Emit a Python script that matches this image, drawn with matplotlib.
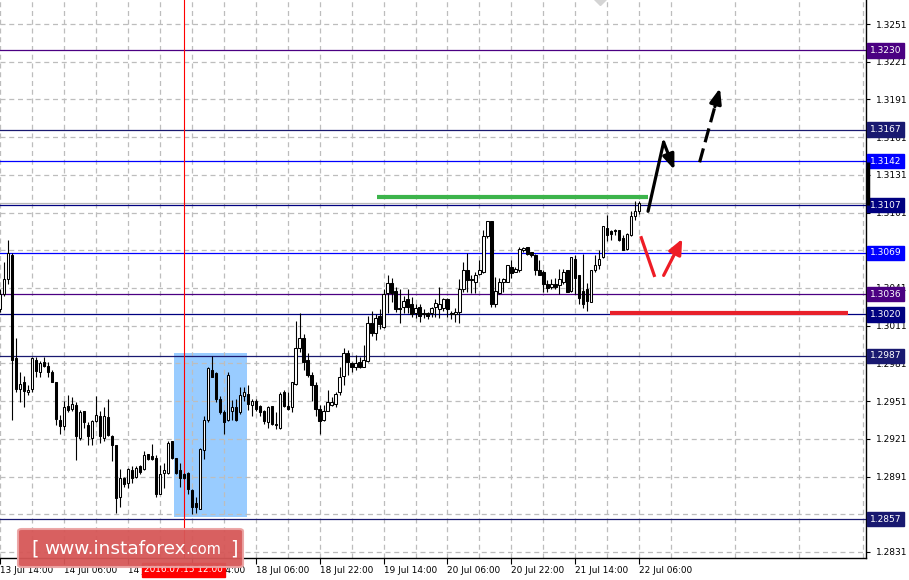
import matplotlib
matplotlib.use("Agg")
import matplotlib.pyplot as plt
import matplotlib.transforms as mtransforms
from matplotlib.patches import Rectangle, FancyBboxPatch
import numpy as np

# H1 candles from 13 Jul 14:00 to 22 Jul 06:00 (weekend hours not shown)
opens = [1.3024, 1.3036, 1.3048, 1.3067, 1.2985, 1.2961, 1.2966, 1.2958, 1.2961, 1.2984,
         1.2974, 1.2982, 1.2979, 1.2974, 1.2966, 1.2936, 1.2931, 1.2947, 1.2945, 1.2948,
         1.2922, 1.2943, 1.2932, 1.2922, 1.2935, 1.2939, 1.2922, 1.2938, 1.2923, 1.2916,
         1.2875, 1.2890, 1.2886, 1.2896, 1.2891, 1.2899, 1.2897, 1.2909, 1.2907, 1.2906,
         1.2877, 1.2894, 1.2894, 1.2919, 1.2906, 1.2896, 1.2893, 1.2894, 1.2880, 1.2870,
         1.2865, 1.2912, 1.2936, 1.2976, 1.2973, 1.2953, 1.2942, 1.2936, 1.2943, 1.2946,
         1.2942, 1.2955, 1.2957, 1.2948, 1.2951, 1.2947, 1.2943, 1.2934, 1.2947, 1.2933,
         1.2930, 1.2958, 1.2947, 1.2946, 1.2965, 1.2993, 1.3001, 1.2984, 1.2972, 1.2964,
         1.2945, 1.2936, 1.2943, 1.2948, 1.2949, 1.2958, 1.2971, 1.2989, 1.2981, 1.2978,
         1.2982, 1.2978, 1.2983, 1.3013, 1.3005, 1.3019, 1.3010, 1.3037, 1.3045, 1.3039,
         1.3025, 1.3026, 1.3032, 1.3028, 1.3021, 1.3026, 1.3021, 1.3021, 1.3021, 1.3026,
         1.3024, 1.3025, 1.3032, 1.3021, 1.3020, 1.3022, 1.3040, 1.3055, 1.3048, 1.3046,
         1.3052, 1.3054, 1.3082, 1.3094, 1.3028, 1.3037, 1.3046, 1.3046, 1.3058, 1.3054,
         1.3055, 1.3071, 1.3074, 1.3070, 1.3067, 1.3055, 1.3054, 1.3044, 1.3042, 1.3044,
         1.3043, 1.3046, 1.3055, 1.3039, 1.3064, 1.3051, 1.3039, 1.3040, 1.3030, 1.3055,
         1.3059, 1.3066, 1.3089, 1.3086, 1.3087, 1.3087, 1.3081, 1.3072, 1.3083, 1.3098,
         1.3102]
highs = [1.3040, 1.3062, 1.3079, 1.3069, 1.3001, 1.2974, 1.2971, 1.2964, 1.2986, 1.2986,
         1.2983, 1.2986, 1.2982, 1.2976, 1.2966, 1.2940, 1.2951, 1.2956, 1.2954, 1.2950,
         1.2944, 1.2943, 1.2934, 1.2936, 1.2955, 1.2943, 1.2946, 1.2953, 1.2924, 1.2916,
         1.2897, 1.2891, 1.2898, 1.2899, 1.2899, 1.2900, 1.2911, 1.2909, 1.2917, 1.2908,
         1.2900, 1.2902, 1.2919, 1.2919, 1.2906, 1.2902, 1.2894, 1.2895, 1.2881, 1.2875,
         1.2914, 1.2939, 1.2978, 1.2987, 1.2974, 1.2955, 1.2944, 1.2974, 1.2952, 1.2953,
         1.2962, 1.2962, 1.2964, 1.2953, 1.2953, 1.2948, 1.2944, 1.2947, 1.2947, 1.2942,
         1.2958, 1.2960, 1.2958, 1.2966, 1.3015, 1.3021, 1.3004, 1.2989, 1.2974, 1.2966,
         1.2948, 1.2948, 1.2960, 1.2954, 1.2958, 1.2978, 1.2993, 1.2992, 1.2982, 1.2988,
         1.2986, 1.2996, 1.3019, 1.3023, 1.3020, 1.3024, 1.3040, 1.3051, 1.3049, 1.3042,
         1.3040, 1.3035, 1.3040, 1.3034, 1.3028, 1.3028, 1.3024, 1.3022, 1.3026, 1.3032,
         1.3042, 1.3033, 1.3033, 1.3023, 1.3025, 1.3048, 1.3062, 1.3069, 1.3051, 1.3054,
         1.3063, 1.3087, 1.3094, 1.3094, 1.3050, 1.3049, 1.3049, 1.3059, 1.3063, 1.3058,
         1.3074, 1.3074, 1.3074, 1.3070, 1.3068, 1.3063, 1.3055, 1.3047, 1.3048, 1.3049,
         1.3056, 1.3056, 1.3055, 1.3066, 1.3067, 1.3051, 1.3068, 1.3045, 1.3055, 1.3067,
         1.3071, 1.3090, 1.3099, 1.3087, 1.3088, 1.3087, 1.3083, 1.3085, 1.3102, 1.3110,
         1.3110]
lows = [1.3022, 1.3035, 1.3044, 1.2936, 1.2958, 1.2950, 1.2946, 1.2956, 1.2958, 1.2970,
        1.2970, 1.2978, 1.2970, 1.2966, 1.2932, 1.2925, 1.2928, 1.2942, 1.2943, 1.2904,
        1.2920, 1.2930, 1.2916, 1.2916, 1.2934, 1.2918, 1.2919, 1.2923, 1.2903, 1.2862,
        1.2867, 1.2883, 1.2882, 1.2886, 1.2890, 1.2893, 1.2896, 1.2904, 1.2904, 1.2875,
        1.2877, 1.2882, 1.2893, 1.2905, 1.2893, 1.2883, 1.2889, 1.2877, 1.2861, 1.2862,
        1.2865, 1.2905, 1.2934, 1.2970, 1.2950, 1.2941, 1.2925, 1.2935, 1.2936, 1.2935,
        1.2941, 1.2951, 1.2944, 1.2939, 1.2943, 1.2939, 1.2933, 1.2930, 1.2932, 1.2929,
        1.2929, 1.2946, 1.2944, 1.2942, 1.2964, 1.2990, 1.2976, 1.2970, 1.2951, 1.2939,
        1.2925, 1.2935, 1.2943, 1.2947, 1.2946, 1.2956, 1.2964, 1.2972, 1.2974, 1.2976,
        1.2977, 1.2978, 1.2982, 1.3003, 1.3000, 1.3008, 1.3009, 1.3021, 1.3030, 1.3022,
        1.3013, 1.3021, 1.3021, 1.3018, 1.3017, 1.3014, 1.3017, 1.3016, 1.3018, 1.3018,
        1.3017, 1.3023, 1.3018, 1.3016, 1.3014, 1.3013, 1.3038, 1.3038, 1.3037, 1.3037,
        1.3051, 1.3053, 1.3081, 1.3026, 1.3026, 1.3036, 1.3038, 1.3046, 1.3049, 1.3054,
        1.3054, 1.3070, 1.3067, 1.3066, 1.3051, 1.3051, 1.3038, 1.3038, 1.3040, 1.3040,
        1.3036, 1.3044, 1.3038, 1.3038, 1.3036, 1.3028, 1.3025, 1.3023, 1.3030, 1.3054,
        1.3056, 1.3065, 1.3078, 1.3079, 1.3083, 1.3078, 1.3071, 1.3071, 1.3082, 1.3095,
        1.3100]
closes = [1.3036, 1.3048, 1.3069, 1.2984, 1.2961, 1.2965, 1.2959, 1.2960, 1.2985, 1.2975,
          1.2981, 1.2979, 1.2974, 1.2966, 1.2937, 1.2931, 1.2946, 1.2944, 1.2949, 1.2923,
          1.2942, 1.2934, 1.2923, 1.2935, 1.2940, 1.2923, 1.2939, 1.2924, 1.2916, 1.2874,
          1.2890, 1.2885, 1.2897, 1.2890, 1.2898, 1.2895, 1.2908, 1.2905, 1.2905, 1.2877,
          1.2893, 1.2896, 1.2918, 1.2906, 1.2894, 1.2890, 1.2890, 1.2881, 1.2867, 1.2867,
          1.2913, 1.2936, 1.2977, 1.2970, 1.2953, 1.2942, 1.2934, 1.2972, 1.2946, 1.2936,
          1.2956, 1.2958, 1.2949, 1.2951, 1.2945, 1.2942, 1.2935, 1.2946, 1.2933, 1.2932,
          1.2957, 1.2947, 1.2945, 1.2966, 1.2993, 1.3001, 1.2982, 1.2972, 1.2964, 1.2945,
          1.2935, 1.2943, 1.2950, 1.2950, 1.2957, 1.2970, 1.2989, 1.2982, 1.2978, 1.2981,
          1.2978, 1.2984, 1.3013, 1.3005, 1.3017, 1.3012, 1.3036, 1.3045, 1.3037, 1.3024,
          1.3024, 1.3031, 1.3026, 1.3020, 1.3025, 1.3019, 1.3020, 1.3019, 1.3025, 1.3029,
          1.3028, 1.3032, 1.3024, 1.3020, 1.3022, 1.3040, 1.3055, 1.3047, 1.3047, 1.3051,
          1.3055, 1.3082, 1.3094, 1.3028, 1.3039, 1.3046, 1.3048, 1.3059, 1.3053, 1.3056,
          1.3072, 1.3073, 1.3068, 1.3067, 1.3055, 1.3051, 1.3044, 1.3041, 1.3044, 1.3042,
          1.3048, 1.3054, 1.3038, 1.3066, 1.3049, 1.3033, 1.3028, 1.3031, 1.3055, 1.3059,
          1.3064, 1.3090, 1.3083, 1.3084, 1.3086, 1.3079, 1.3071, 1.3084, 1.3098, 1.3102,
          1.3109]

time_ticks = [0, 16, 32, 48, 64, 80, 96, 112, 128, 144, 160]
time_labels = ['13 Jul 14:00', '14 Jul 06:00', '14 Jul 22:00', '15 Jul 14:00',
               '18 Jul 06:00', '18 Jul 22:00', '19 Jul 14:00', '20 Jul 06:00',
               '20 Jul 22:00', '21 Jul 14:00', '22 Jul 06:00']
price_ticks = [1.2831, 1.2861, 1.2891, 1.2921, 1.2951, 1.2981, 1.3011, 1.3041,
               1.3071, 1.3101, 1.3131, 1.3161, 1.3191, 1.3221, 1.3251]
hidden_ticks = [1.2861, 1.3071]   # covered by level boxes on the scale

levels = [1.3230, 1.3167, 1.3142, 1.3107, 1.3069, 1.3036, 1.3020, 1.2987, 1.2857]
level_colors = ['#4b0082', '#191970', '#0000ff', '#000080', '#0000ff',
                '#4b0082', '#000080', '#191970', '#191970']

cursor_time = 46
cursor_label = '2016.07.15 12:00'
zone_time = (43.5, 61.75)
zone_price = (1.2859, 1.2989)
green_price, green_span = 1.3113, (94.25, 162.25)
red_price, red_span = 1.3021, (152.75, 212.25)

# forecast sketch (time index, price)
up_path = [(162.2, 1.3102), (166.1, 1.3157), (168.8, 1.3135)]
up_dash = [(175.1, 1.3141), (180.2, 1.3200)]
dip_line = [(160.5, 1.3081), (163.75, 1.3051)]
dip_arrow = [(166.1, 1.3051), (170.75, 1.3080)]

plt.rcParams['font.family'] = ['DejaVu Sans']

fig = plt.figure(figsize=(9.09, 5.80), dpi=100)
ax = fig.add_axes([0, 22 / 580, 866 / 909, 558 / 580])
ax.set_xlim(0.25, 216.75)
ax.set_ylim(1.28262, 1.32701)
ax.set_axisbelow(True)

# grid + axes look like MT4
ax.set_xticks(time_ticks)
ax.set_xticklabels(time_labels, ha='left', fontsize=6.4)
ax.set_xticks(np.arange(8, 217, 16), minor=True)
ax.set_yticks(price_ticks)
ax.set_yticklabels(['' if p in hidden_ticks else '%.4f' % p for p in price_ticks],
                   fontsize=6.5)
ax.yaxis.tick_right()
ax.tick_params(axis='x', which='major', length=4, pad=1.5, direction='out')
ax.tick_params(axis='x', which='minor', length=0)
ax.tick_params(axis='y', length=3, pad=4, direction='out')
ax.grid(True, which='both', axis='x', color='#bdbdbd', ls=(0, (4, 3)), lw=0.9)
ax.grid(True, which='major', axis='y', color='#bdbdbd', ls=(0, (4, 3)), lw=0.9)
for s in ['top', 'left']:
    ax.spines[s].set_visible(False)
for s in ['right', 'bottom']:
    ax.spines[s].set_linewidth(1.0)

# highlighted zone
ax.add_patch(Rectangle((zone_time[0], zone_price[0]), zone_time[1] - zone_time[0],
                       zone_price[1] - zone_price[0], fc='#99ccff', ec='none', zorder=0.2))

# levels
for lv, col in zip(levels, level_colors):
    ax.axhline(lv, color=col, lw=0.9, zorder=1.5)
ax.axhline(closes[-1], color='#b8b8b8', lw=0.9, zorder=1.4)

blend = mtransforms.blended_transform_factory(ax.transAxes, ax.transData)
for lv, col in zip(levels, level_colors):
    ax.text(1.0045, lv, '%.4f' % lv, transform=blend, ha='left', va='center',
            fontsize=6.5, color='white', clip_on=False, zorder=5,
            bbox=dict(boxstyle='square,pad=0.3', fc=col, ec=col))
ax.plot([1.002, 1.002], [1.3141, 1.3107], transform=blend, color='black',
        lw=2.5, clip_on=False, solid_capstyle='butt', zorder=5)

# cursor line
ax.axvline(cursor_time, color='#ff0000', lw=0.8, zorder=1.6)
bx = mtransforms.blended_transform_factory(ax.transData, ax.transAxes)
ax.text(cursor_time, -0.0215, cursor_label, transform=bx, ha='center', va='center',
        fontsize=6.4, color='white', clip_on=False, zorder=6,
        bbox=dict(boxstyle='square,pad=0.25', fc='#ff0000', ec='#ff0000'))

# candles
x = np.arange(len(opens))
o = np.array(opens)
c = np.array(closes)
up = c >= o
ax.vlines(x, lows, highs, color='black', lw=0.8, zorder=3)
body_lo = np.minimum(o, c)
body_h = np.maximum(np.abs(c - o), 0.00003)
ax.bar(x[up], body_h[up], bottom=body_lo[up], width=0.58, color='white',
       edgecolor='black', lw=0.75, zorder=4)
ax.bar(x[~up], body_h[~up], bottom=body_lo[~up], width=0.58, color='black',
       edgecolor='black', lw=0.75, zorder=4)

# drawn lines
ax.hlines(green_price, *green_span, color='#3cb44b', lw=3, zorder=4.5)
ax.hlines(red_price, *red_span, color='#e8202a', lw=3, zorder=4.5)

# forecast arrows
ax.plot([p[0] for p in up_path[:2]], [p[1] for p in up_path[:2]], color='black',
        lw=2.3, solid_capstyle='round', zorder=5)
ax.annotate('', xy=up_path[2], xytext=up_path[1],
            arrowprops=dict(arrowstyle='-|>,head_length=0.9,head_width=0.35',
                            color='black', lw=2.3, shrinkA=0, shrinkB=0), zorder=5)
d0, d1 = up_dash
ax.plot([d0[0], d0[0] + (d1[0] - d0[0]) * 0.8], [d0[1], d0[1] + (d1[1] - d0[1]) * 0.8],
        color='black', lw=2.3, ls=(0, (4.5, 2)), zorder=5)
ax.annotate('', xy=d1, xytext=(d0[0] + (d1[0] - d0[0]) * 0.75, d0[1] + (d1[1] - d0[1]) * 0.75),
            arrowprops=dict(arrowstyle='-|>,head_length=0.9,head_width=0.35',
                            color='black', lw=2.3, shrinkA=0, shrinkB=0), zorder=5)
ax.plot([p[0] for p in dip_line], [p[1] for p in dip_line], color='#ee1c25',
        lw=2.3, zorder=5)
ax.annotate('', xy=dip_arrow[1], xytext=dip_arrow[0],
            arrowprops=dict(arrowstyle='-|>,head_length=0.9,head_width=0.4',
                            color='#ee1c25', lw=2.3, shrinkA=0, shrinkB=0), zorder=5)

# object marker at top edge
ax.plot([150.25], [1.3273], marker='D', ms=9, color='#d4d4d4', zorder=2)

# watermark
fig.add_artist(FancyBboxPatch((18 / 909, 13 / 580), 225 / 909, 38 / 580,
                              boxstyle='round,pad=0,rounding_size=0.004',
                              transform=fig.transFigure, fc='#d65757', ec='#eba3a3',
                              lw=1.5, alpha=0.95, zorder=10))
fig.text(31 / 909, 31 / 580, '[', color='white', fontsize=14, va='center', zorder=11)
t1 = fig.text(44 / 909, 26 / 580, 'www.instaforex', color='white', fontsize=13.3,
              va='baseline', zorder=11)
fig.text(230 / 909, 31 / 580, ']', color='white', fontsize=14, va='center', zorder=11)
fig.canvas.draw()
bb = t1.get_window_extent()
fig.text(bb.x1 / 909, 26 / 580, '.com', color='white', fontsize=10.5,
         va='baseline', zorder=11)

fig.savefig('out.png', dpi=100)
